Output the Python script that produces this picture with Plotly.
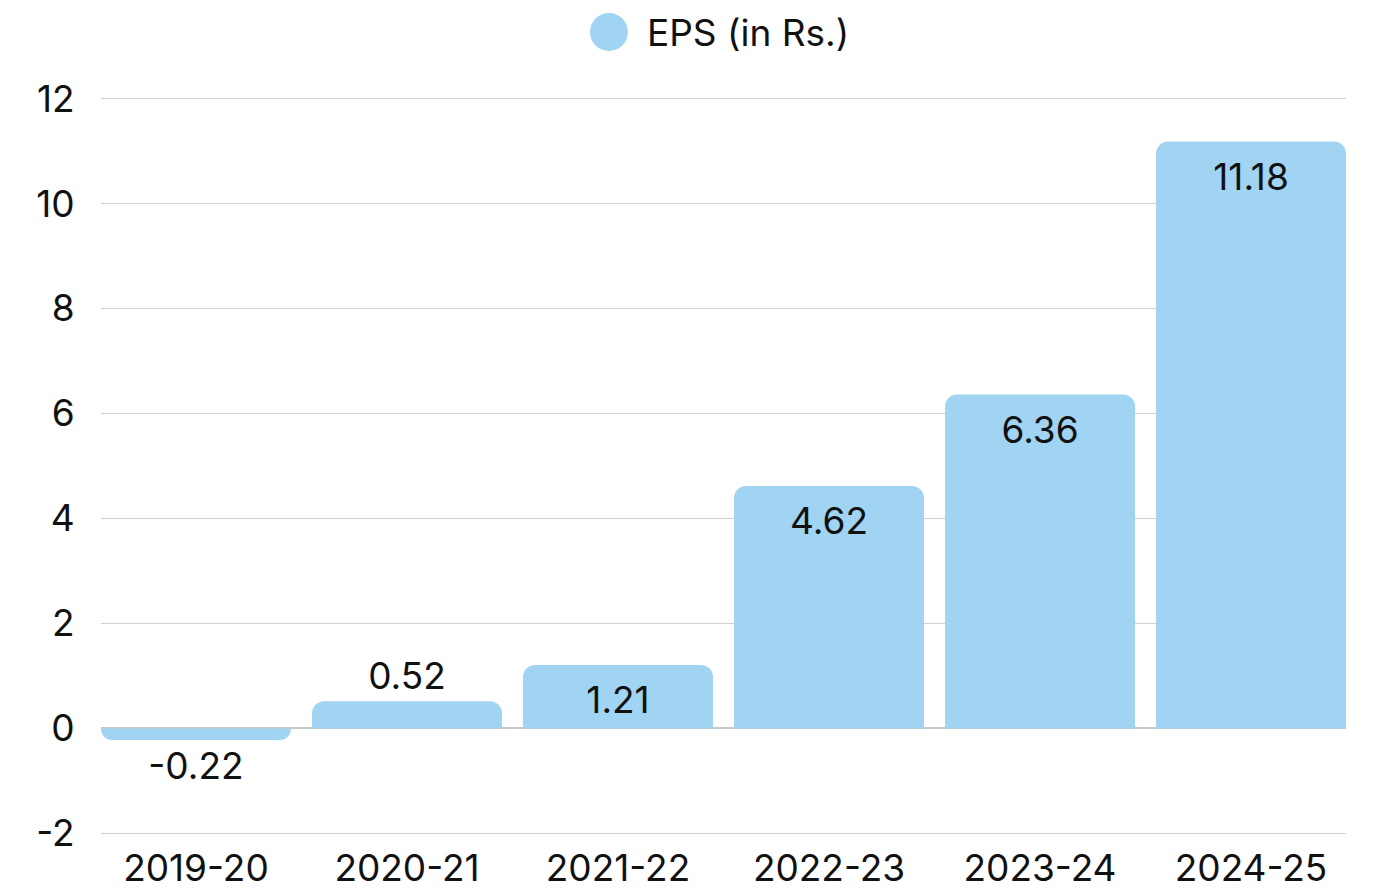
import plotly.graph_objects as go

years = ['2019-20', '2020-21', '2021-22', '2022-23', '2023-24', '2024-25']
eps = [-0.22, 0.52, 1.21, 4.62, 6.36, 11.18]
y_ticks = [-2, 0, 2, 4, 6, 8, 10, 12]

bar_color = '#A0D4F2'
font_family = 'Inter, Lato, sans-serif'
fs = 37

fig = go.Figure()
fig.add_trace(go.Bar(
    x=years, y=eps,
    text=[f'{v:.2f}' for v in eps],
    textposition='auto',
    insidetextanchor='end',
    textfont=dict(size=fs, color='#111111', family=font_family),
    insidetextfont=dict(size=fs, color='#111111'),
    outsidetextfont=dict(size=fs, color='#111111'),
    cliponaxis=False,
    marker=dict(color=bar_color, cornerradius=12, line=dict(width=0)),
    showlegend=False,
))

# legend: big circle + label
fig.add_shape(
    type='circle', xref='paper', yref='paper',
    xsizemode='pixel', ysizemode='pixel',
    xanchor=0.408, yanchor=1.088,
    x0=-19, x1=19, y0=-19, y1=19,
    fillcolor=bar_color, line=dict(width=0),
)
fig.add_annotation(
    xref='paper', yref='paper', x=0.437, y=1.088,
    xanchor='left', yanchor='middle', showarrow=False,
    text='EPS (in Rs.)',
    font=dict(size=fs, color='#111111', family=font_family),
)

fig.update_layout(
    width=1366, height=882,
    margin=dict(l=93, r=28, t=89, b=55),
    plot_bgcolor='white', paper_bgcolor='white',
    font=dict(family=font_family, size=fs, color='#111111'),
    bargap=0.1,
    uniformtext=dict(mode='show', minsize=10),
)
fig.update_xaxes(
    automargin=False, range=[-0.45, 5.45],
    showgrid=False, showline=False, zeroline=False,
    ticks='outside', ticklen=1, tickcolor='rgba(0,0,0,0)',
    tickfont=dict(size=fs, color='#111111'),
)
fig.update_yaxes(
    automargin=False,
    range=[-2.03, 12.03], tickvals=y_ticks, ticktext=[str(t) for t in y_ticks],
    showgrid=True, gridcolor='#d0d0d0', gridwidth=1,
    zeroline=True, zerolinecolor='#c8c8c8', zerolinewidth=2,
    ticks='outside', ticklen=18, tickcolor='rgba(0,0,0,0)',
    tickfont=dict(size=fs, color='#111111'),
)

fig.write_html('out.html')
